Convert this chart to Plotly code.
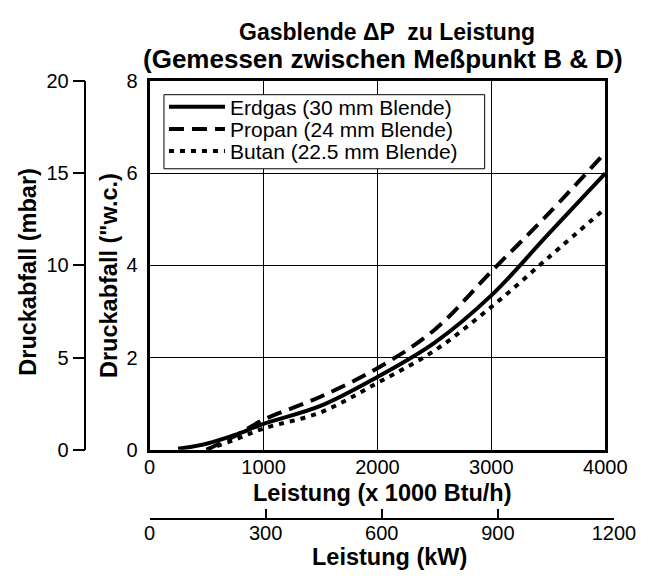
import plotly.graph_objects as go

# ---- data ----
erdgas_x = [250, 500, 750, 1000, 1500, 2000, 2500, 3000, 3500, 4000]
erdgas_y = [0.02, 0.13, 0.32, 0.56, 0.95, 1.58, 2.32, 3.35, 4.68, 6.0]

propan_x = [500, 750, 1000, 1500, 2000, 2500, 3000, 3500, 4000]
propan_y = [0.0, 0.30, 0.65, 1.15, 1.77, 2.60, 3.87, 5.12, 6.45]

butan_x = [500, 750, 1000, 1500, 2000, 2500, 3000, 3500, 4000]
butan_y = [0.0, 0.22, 0.46, 0.81, 1.45, 2.15, 3.10, 4.17, 5.24]

series_names = ["Erdgas (30 mm Blende)", "Propan (24 mm Blende)", "Butan (22.5 mm Blende)"]

btu_ticks = [0, 1000, 2000, 3000, 4000]
wc_ticks = [0, 2, 4, 6, 8]
mbar_ticks = [0, 5, 10, 15, 20]
kw_ticks = [0, 300, 600, 900, 1200]

title_l1 = "Gasblende \u0394P  zu Leistung"
title_l2 = "(Gemessen zwischen Me\u00dfpunkt B & D)"

# ---- layout geometry (pixels) ----
W, H = 656, 580
PL, PR, PT, PB = 150, 626, 73, 456
KW_R = 635
KW_Y = 528
MBAR_X = 83
LEG_L, LEG_R, LEG_T, LEG_B = 165, 500, 87, 164
LEG_ROWS = [100, 123, 146]

def fx(px):
    return px / W

def fy(py):
    return 1 - py / H

FONT = "Liberation Sans, Arial, sans-serif"

fig = go.Figure()
fig.add_trace(go.Scatter(x=erdgas_x, y=erdgas_y, name=series_names[0], mode="lines", legend="legend",
                         line=dict(color="black", width=4, shape="spline", dash="solid")))
fig.add_trace(go.Scatter(x=propan_x, y=propan_y, name=series_names[1], mode="lines", legend="legend2",
                         line=dict(color="black", width=4, shape="spline", dash="15px,8px")))
fig.add_trace(go.Scatter(x=butan_x, y=butan_y, name=series_names[2], mode="lines", legend="legend3",
                         line=dict(color="black", width=4, shape="spline", dash="5px,6px")))
# dummy traces to activate the secondary axes
fig.add_trace(go.Scatter(x=[None], y=[None], xaxis="x", yaxis="y2", showlegend=False, hoverinfo="skip"))
fig.add_trace(go.Scatter(x=[None], y=[None], xaxis="x2", yaxis="y3", showlegend=False, hoverinfo="skip"))

def leg(row_y):
    return dict(x=fx(LEG_L), y=fy(row_y), xanchor="left", yanchor="middle",
                bgcolor="rgba(0,0,0,0)", borderwidth=0,
                font=dict(size=21, family=FONT, color="black"),
                itemwidth=56, tracegroupgap=0)

fig.update_layout(
    width=W, height=H,
    margin=dict(l=0, r=0, t=0, b=0),
    paper_bgcolor="white",
    plot_bgcolor="rgba(0,0,0,0)",
    font=dict(family=FONT, color="black", size=20),
    showlegend=True,
    legend=leg(LEG_ROWS[0]),
    legend2=leg(LEG_ROWS[1]),
    legend3=leg(LEG_ROWS[2]),
    xaxis=dict(domain=[fx(PL), fx(PR)], range=[0, 4000], tickvals=btu_ticks,
               ticktext=[str(v) for v in btu_ticks],
               showgrid=True, gridcolor="black", gridwidth=1,
               showline=True, mirror=True, linecolor="black", linewidth=3,
               ticks="", zeroline=False, ticklabelstandoff=-3,
               tickfont=dict(size=20), anchor="y"),
    yaxis=dict(domain=[fy(PB), fy(PT)], range=[0, 8], tickvals=wc_ticks,
               showgrid=True, gridcolor="black", gridwidth=1,
               showline=True, mirror=True, linecolor="black", linewidth=3,
               ticks="", zeroline=False, ticklabelstandoff=5,
               tickfont=dict(size=20), anchor="x"),
    yaxis2=dict(overlaying="y", anchor="free", position=fx(MBAR_X), side="left",
                range=[0, 20], tickvals=mbar_ticks, showgrid=False, zeroline=False,
                showline=True, linecolor="black", linewidth=1.5,
                ticks="outside", ticklen=12, tickwidth=1.5, tickcolor="black",
                ticklabelstandoff=0, tickfont=dict(size=20)),
    xaxis2=dict(domain=[fx(PL), fx(KW_R)], anchor="free", position=fy(KW_Y), side="bottom",
                range=[0, 1200], tickvals=kw_ticks, showgrid=False, zeroline=False,
                showline=True, linecolor="black", linewidth=1.5,
                ticks="inside", ticklen=9, tickwidth=1.5, tickcolor="black",
                ticklabelstandoff=-4, tickfont=dict(size=20)),
    yaxis3=dict(domain=[fy(PB), fy(PT)], anchor="x2", range=[0, 1], visible=False,
                showgrid=False, zeroline=False),
)

# legend frame (white box hiding the grid behind the legend)
fig.add_shape(type="rect", xref="paper", yref="paper",
              x0=fx(LEG_L), x1=fx(LEG_R), y0=fy(LEG_B), y1=fy(LEG_T),
              line=dict(color="black", width=1), fillcolor="white", layer="above")

ann = [
    dict(text="<b>" + title_l1 + "</b>", x=fx(398), y=fy(22), size=23, angle=0),
    dict(text="<b>" + title_l2 + "</b>", x=fx(394), y=fy(50), size=26, angle=0),
    dict(text="<b>Leistung (x 1000 Btu/h)</b>", x=fx(393), y=fy(501), size=23.5, angle=0),
    dict(text="<b>Leistung (kW)</b>", x=fx(401), y=fy(568), size=23.5, angle=0),
    dict(text="<b>Druckabfall (\"w.c.)</b>", x=fx(107), y=fy(275), size=23.5, angle=-90),
    dict(text="<b>Druckabfall (mbar)</b>", x=fx(23), y=fy(271), size=23.5, angle=-90),
]
for a in ann:
    fig.add_annotation(text=a["text"], x=a["x"], y=a["y"], xref="paper", yref="paper",
                       xanchor="center", yanchor="middle", showarrow=False,
                       textangle=a["angle"], font=dict(size=a["size"], family=FONT, color="black"))

fig.write_html("out.html",
               config={"displayModeBar": False},
               post_script="document.body.style.margin='0';document.body.style.padding='0';")
